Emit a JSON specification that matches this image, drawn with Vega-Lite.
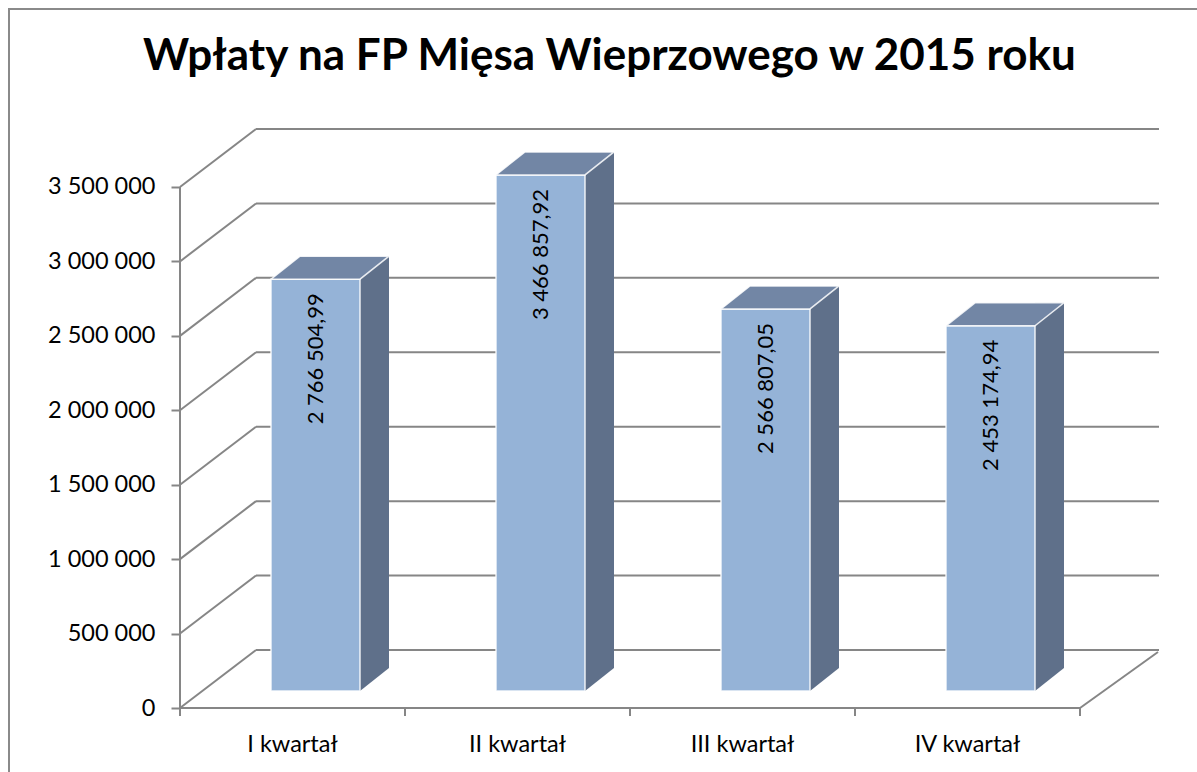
{
  "$schema": "https://vega.github.io/schema/vega-lite/v6.json",
  "width": 979,
  "height": 579,
  "autosize": {"type": "none"},
  "padding": {"left": 180, "top": 129, "right": 38, "bottom": 64},
  "background": "#ffffff",
  "config": {
    "locale": {"number": {"decimal": ",", "thousands": " ", "grouping": [3], "currency": ["", ""]}},
    "view": {"stroke": null},
    "font": "Lato"
  },
  "title": {
    "text": "Wpłaty na FP Mięsa Wieprzowego w 2015 roku",
    "font": "Lato",
    "fontSize": 44,
    "fontWeight": "bold",
    "color": "#000000",
    "anchor": "middle",
    "frame": "group",
    "dx": -60,
    "offset": -106,
    "baseline": "alphabetic"
  },
  "datasets": {
    "kw": [
      {"kwartal": "I kwartał", "wplaty": 2766504.99},
      {"kwartal": "II kwartał", "wplaty": 3466857.92},
      {"kwartal": "III kwartał", "wplaty": 2566807.05},
      {"kwartal": "IV kwartał", "wplaty": 2453174.94}
    ],
    "ticks": [
      {"v": 0}, {"v": 500000}, {"v": 1000000}, {"v": 1500000},
      {"v": 2000000}, {"v": 2500000}, {"v": 3000000}, {"v": 3500000}
    ],
    "xt": [{"t": 0}, {"t": 1}, {"t": 2}, {"t": 3}, {"t": 4}],
    "one": [{"k": 1}]
  },
  "layer": [
    {
      "layer": [
        {
          "data": {"name": "ticks"},
          "mark": {"type": "rule", "color": "#868686", "strokeWidth": 2, "xOffset": 76, "x2Offset": 79, "yOffset": -58},
          "encoding": {
            "x": {"datum": 0, "type": "quantitative", "scale": {"domain": [0, 4.3511], "nice": false, "zero": false}, "axis": null},
            "x2": {"datum": 4},
            "y": {
              "field": "v", "type": "quantitative", "title": null,
              "scale": {"domain": [0, 3889600], "nice": false},
              "axis": {
                "values": [0, 500000, 1000000, 1500000, 2000000, 2500000, 3000000, 3500000],
                "format": ",d", "domain": false, "grid": false,
                "ticks": true, "tickSize": 9, "tickWidth": 2, "tickColor": "#868686",
                "labelFont": "Lato", "labelFontSize": 23.5, "labelColor": "#000000",
                "labelPadding": 16, "title": null
              }
            }
          }
        },
        {
          "data": {"name": "ticks"},
          "mark": {"type": "rule", "color": "#868686", "strokeWidth": 2, "x2Offset": 76, "y2Offset": -58},
          "encoding": {
            "x": {"datum": 0, "type": "quantitative"},
            "x2": {"datum": 0},
            "y": {"field": "v", "type": "quantitative", "title": null},
            "y2": {"field": "v"}
          }
        },
        {
          "data": {"name": "one"},
          "mark": {"type": "rule", "color": "#868686", "strokeWidth": 2, "x2Offset": 78, "y2Offset": -56},
          "encoding": {
            "x": {"datum": 4, "type": "quantitative"},
            "x2": {"datum": 4},
            "y": {"datum": 0, "type": "quantitative", "title": null},
            "y2": {"datum": 0}
          }
        },
        {
          "data": {"name": "one"},
          "mark": {"type": "rule", "color": "#868686", "strokeWidth": 2},
          "encoding": {
            "x": {"datum": 0, "type": "quantitative"},
            "y": {"datum": 0, "type": "quantitative", "title": null},
            "y2": {"datum": 3500000}
          }
        },
        {
          "data": {"name": "one"},
          "mark": {"type": "rule", "color": "#868686", "strokeWidth": 2},
          "encoding": {
            "x": {"datum": 0, "type": "quantitative"},
            "x2": {"datum": 4},
            "y": {"datum": 0, "type": "quantitative", "title": null}
          }
        },
        {
          "data": {"name": "xt"},
          "mark": {"type": "rule", "color": "#868686", "strokeWidth": 2, "y2Offset": 8},
          "encoding": {
            "x": {"field": "t", "type": "quantitative"},
            "y": {"datum": 0, "type": "quantitative", "title": null},
            "y2": {"datum": 0}
          }
        },
        {
          "data": {"name": "one"},
          "mark": {"type": "rect", "filled": false, "fill": null, "stroke": "#8a8a8a", "strokeWidth": 2},
          "encoding": {
            "x": {"datum": -0.76, "type": "quantitative"},
            "x2": {"datum": 5},
            "y": {"datum": 4695714, "type": "quantitative", "title": null},
            "y2": {"datum": -1000000}
          }
        }
      ]
    },
    {
      "data": {"name": "kw"},
      "encoding": {
        "x": {
          "field": "kwartal", "type": "nominal", "sort": null, "title": null,
          "scale": {"range": [0, 900], "paddingInner": 0, "paddingOuter": 0},
          "axis": {
            "orient": "bottom",
            "ticks": false, "domain": false, "labelAngle": 0,
            "labelFont": "Lato", "labelFontSize": 23.5, "labelColor": "#000000",
            "labelPadding": 24, "title": null
          }
        }
      },
      "layer": [
        {
          "mark": {"type": "bar", "width": 29, "xOffset": 82, "yOffset": -40, "y2Offset": -40, "color": "#5f708a"},
          "encoding": {
            "y": {"field": "wplaty", "type": "quantitative", "title": null},
            "y2": {"datum": 0}
          }
        },
        {
          "mark": {"type": "point", "shape": "M0,0 L0,-0.46 L0.58,-0.46 Z", "size": 10000, "filled": true, "color": "#5f708a", "opacity": 1, "strokeWidth": 0, "xOffset": 67.5, "yOffset": -17},
          "encoding": {
            "y": {"datum": 0, "type": "quantitative", "title": null}
          }
        },
        {
          "mark": {"type": "bar", "width": 89, "xOffset": 23, "yOffset": -17, "y2Offset": -17, "fill": "#95b3d7", "stroke": "#ffffff", "strokeWidth": 1.5, "strokeOpacity": 0.85},
          "encoding": {
            "y": {"field": "wplaty", "type": "quantitative", "title": null},
            "y2": {"datum": 0}
          }
        },
        {
          "mark": {"type": "point", "shape": "M0,0 L-1.78,0 L-1.2,-0.46 L0.58,-0.46 Z", "size": 10000, "filled": true, "fill": "#7286a5", "opacity": 1, "stroke": "#ffffff", "strokeWidth": 1.5, "strokeOpacity": 0.85, "xOffset": 67.5, "yOffset": -17},
          "encoding": {
            "y": {"field": "wplaty", "type": "quantitative", "title": null}
          }
        },
        {
          "mark": {"type": "text", "angle": 270, "align": "right", "baseline": "middle", "font": "Lato", "fontSize": 22, "color": "#000000", "xOffset": 23, "yOffset": -3},
          "encoding": {
            "y": {"field": "wplaty", "type": "quantitative", "title": null},
            "text": {"field": "wplaty", "type": "quantitative", "format": ",.2f"}
          }
        }
      ]
    }
  ],
  "resolve": {"scale": {"x": "independent"}}
}
